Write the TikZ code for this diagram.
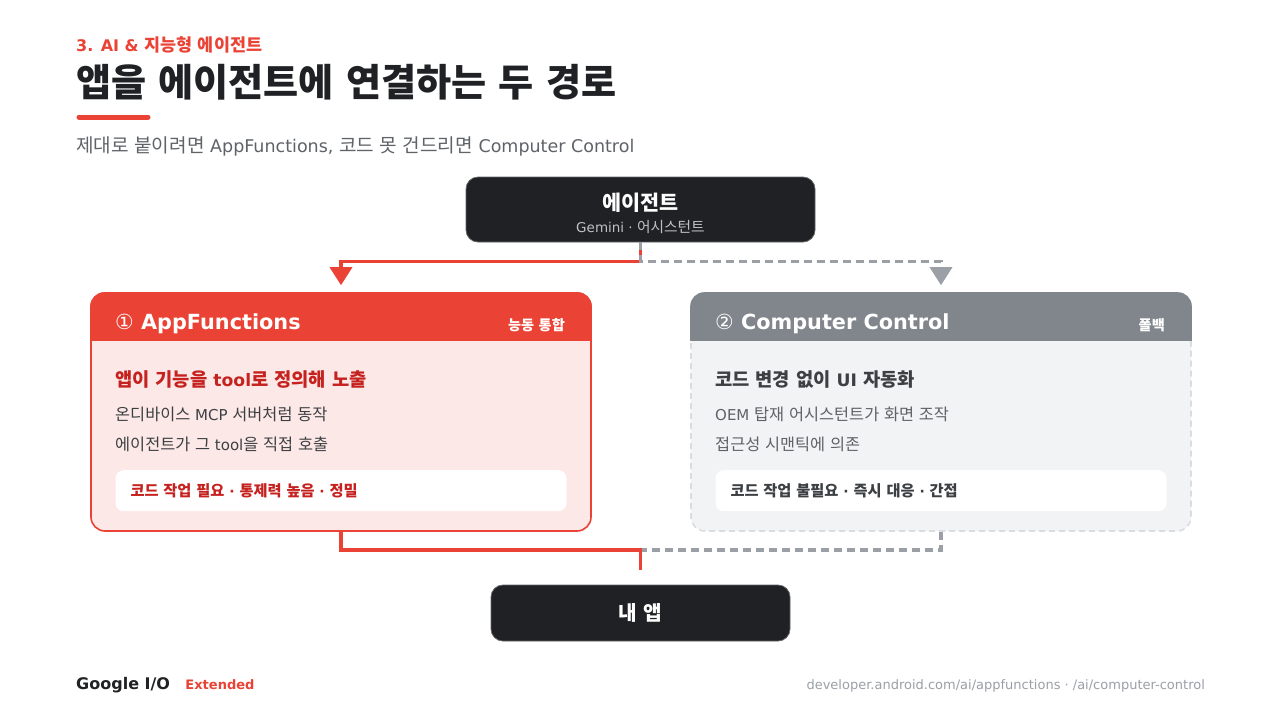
\documentclass[tikz,border=0pt]{standalone}
\usepackage{fontspec}
\setmainfont{DejaVu Sans}
\newfontfamily\krfont[Scale=1.09]{Noto Sans CJK KR}
\usetikzlibrary{arrows.meta,positioning}

\XeTeXinterchartokenstate=1
\newXeTeXintercharclass\hangulclass
\newcount\hcode
\hcode="AC00
\loop
  \XeTeXcharclass\hcode=\hangulclass
  \ifnum\hcode<"D7A3 \advance\hcode by 1
\repeat
\XeTeXinterchartoks 0 \hangulclass = {\krfont}
\XeTeXinterchartoks 4095 \hangulclass = {\krfont}
\XeTeXinterchartoks \hangulclass 0 = {\rmfamily}
\XeTeXinterchartoks \hangulclass 4095 = {\rmfamily}
\XeTeXinterchartoks 4095 0 = {\rmfamily}

\definecolor{ink}{HTML}{202124}
\definecolor{gred}{HTML}{EA4335}
\definecolor{dred}{HTML}{C5221F}
\definecolor{gpink}{HTML}{FCE8E6}
\definecolor{ggray}{HTML}{80868B}
\definecolor{gbody}{HTML}{F1F3F4}
\definecolor{gedge}{HTML}{DADCE0}
\definecolor{gline}{HTML}{9AA0A6}
\definecolor{gsoft}{HTML}{BDC1C6}
\definecolor{txt}{HTML}{3C4043}
\definecolor{subtxt}{HTML}{5F6368}

\tikzset{kicker/.style={anchor=west, inner sep=0pt, text=gred,
           font=\bfseries\fontsize{16}{19}\selectfont},
         headline/.style={anchor=west, inner sep=0pt, text=ink,
           font=\bfseries\fontsize{35}{42}\selectfont},
         subline/.style={anchor=west, inner sep=0pt, text=subtxt,
           font=\fontsize{17.5}{21}\selectfont},
         darkbox/.style={rounded corners=12pt, fill=ink, draw=ink!70!white,
           line width=0.8pt, inner sep=0pt},
         boxtitle/.style={inner sep=0pt, text=white,
           font=\bfseries\fontsize{19}{22}\selectfont},
         boxsub/.style={inner sep=0pt, text=gsoft,
           font=\fontsize{13.5}{16}\selectfont},
         card/.style={rounded corners=14pt, minimum width=500pt,
           minimum height=238pt, inner sep=0pt, line width=1.6pt},
         pill/.style={rounded corners=8pt, fill=white, minimum width=451pt,
           minimum height=41pt, inner sep=0pt},
         hdtext/.style={anchor=west, inner sep=0pt, text=white,
           font=\bfseries\fontsize{20.8}{24}\selectfont},
         tagtext/.style={anchor=east, inner sep=0pt, text=white,
           font=\bfseries\fontsize{13}{16}\selectfont},
         leadtext/.style={anchor=west, inner sep=0pt,
           font=\bfseries\fontsize{17.2}{20}\selectfont},
         bodytext/.style={anchor=west, inner sep=0pt,
           font=\fontsize{15}{18}\selectfont},
         pilltext/.style={anchor=west, inner sep=0pt,
           font=\bfseries\fontsize{14}{17}\selectfont},
         redline/.style={draw=gred, line width=3.5pt},
         grayline/.style={draw=gline, line width=3.5pt, dash pattern=on 8pt off 5pt},
         tip/.style={-{Triangle[width=22pt,length=18pt]}, shorten >=7pt}}

\begin{document}
\begin{tikzpicture}[x=1pt,y=-1pt]
  \fill[white] (0,0) rectangle (1281,721);
  \useasboundingbox (0,0) rectangle (1281,721);

  \node[kicker] (kicker) at (76,45) {3. AI \& 지능형 에이전트};
  \node[headline] (headline) at (76,82) {앱을 에이전트에 연결하는 두 경로};
  \draw[gred, line width=5pt, line cap=round] (79,117) -- (148,117);
  \node[subline] (subline) at (76,146) {제대로 붙이려면 AppFunctions, 코드 못 건드리면 Computer Control};

  \node[darkbox, minimum width=349pt, minimum height=65pt] (agent) at (640.5,209.5) {};
  \node[boxtitle] (agenttx) at ([yshift=7pt]agent.center) {에이전트};
  \node[boxsub] (agentsub) at ([yshift=-17.5pt]agent.center) {Gemini · 어시스턴트};

  \node[card, fill=gpink, draw=gred] (af) at (341,412) {};
  \node[card, fill=gbody, draw=gedge, dash pattern=on 6pt off 4pt] (cc) at (941,412) {};
  \foreach \c/\col in {af/gred, cc/ggray} {
    \begin{scope}
      \clip[rounded corners=14pt] (\c.south west) rectangle (\c.north east);
      \fill[\col] (\c.north west) rectangle ([yshift=-49pt]\c.north east);
    \end{scope}
    \node[pill] (\c pill) at ([yshift=-198.5pt]\c.north) {};
  }

  \node[hdtext] (afhd) at (115,324) {{\mdseries ①} AppFunctions};
  \node[tagtext] (aftag) at (565,325) {능동 통합};
  \node[leadtext, text=dred] (aflead) at (115,379) {앱이 기능을 tool로 정의해 노출};
  \node[bodytext, text=txt] (afone) at (115,414) {온디바이스 MCP 서버처럼 동작};
  \node[bodytext, text=txt] (aftwo) at (115,444) {에이전트가 그 tool을 직접 호출};
  \node[pilltext, text=dred] (afpilltx) at ([xshift=15pt]afpill.west) {코드 작업 필요 · 통제력 높음 · 정밀};

  \node[hdtext] (cchd) at (715,324) {{\mdseries ②} Computer Control};
  \node[tagtext] (cctag) at (1165,325) {폴백};
  \node[leadtext, text=txt] (cclead) at (715,379) {코드 변경 없이 UI 자동화};
  \node[bodytext, text=subtxt] (ccone) at (715,414) {OEM 탑재 어시스턴트가 화면 조작};
  \node[bodytext, text=subtxt] (cctwo) at (715,444) {접근성 시맨틱에 의존};
  \node[pilltext, text=txt] (ccpilltx) at ([xshift=15pt]ccpill.west) {코드 작업 불필요 · 즉시 대응 · 간접};

  \node[darkbox, minimum width=299pt, minimum height=56pt, text=white,
    font=\bfseries\fontsize{18.5}{22}\selectfont] (myapp) at (640.5,613) {내 앱};

  \draw[redline, tip] (agent.south) -- ++(0,19) -| (af.north);
  \draw[grayline, tip] (agent.south) -- ++(0,19) -| (cc.north);
  \draw[grayline, shorten >=15pt] (cc.south) -- ++(0,18) -| (myapp.north);
  \draw[redline, shorten >=15pt] (af.south) -- ++(0,18) -| (myapp.north);

  \node[anchor=west, inner sep=0pt, text=ink, font=\bfseries\fontsize{16}{19}\selectfont]
    (gio) at (76,685) {Google I/O};
  \node[right=15pt of gio, inner sep=0pt, text=gred, font=\bfseries\fontsize{13}{16}\selectfont]
    (extended) {Extended};
  \node[anchor=east, inner sep=0pt, text=gline, font=\fontsize{13}{16}\selectfont]
    (links) at (1205,686) {developer.android.com/ai/appfunctions · /ai/computer-control};
\end{tikzpicture}
\end{document}
